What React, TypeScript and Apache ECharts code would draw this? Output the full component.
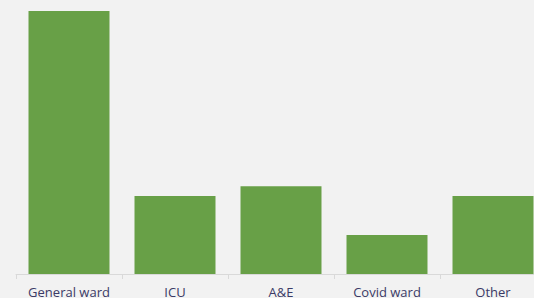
import React, { useEffect, useRef } from "react";
import * as echarts from "echarts";

const categories = ["General ward", "ICU", "A&E", "Covid ward", "Other"];
const values = [27, 8, 9, 4, 8];

export default function App() {
  const ref = useRef<HTMLDivElement>(null);
  useEffect(() => {
    if (!ref.current) return;
    const chart = echarts.init(ref.current, null, { renderer: "svg" });
    chart.setOption({
      animation: false,
      backgroundColor: "#f2f2f2",
      grid: { left: 16, width: 530, top: 11, bottom: 40 },
      xAxis: {
        type: "category",
        data: categories,
        axisLine: { lineStyle: { color: "#d9d9d9", width: 1 } },
        axisTick: { show: true, length: 5, lineStyle: { color: "#d9d9d9" } },
        axisLabel: {
          color: "#3b3a66",
          fontFamily: "Open Sans",
          fontSize: 13,
          margin: 11,
          interval: 0,
        },
      },
      yAxis: {
        type: "value",
        min: 0,
        max: 27,
        show: false,
        splitLine: { show: false },
      },
      series: [
        {
          type: "bar",
          data: values,
          barCategoryGap: "23.6%",
          itemStyle: { color: "#68a047" },
        },
      ],
    });
    return () => chart.dispose();
  }, []);
  return (
    <div
      style={{
        position: "absolute",
        left: 0,
        top: 0,
        width: 534,
        height: 298,
        overflow: "hidden",
        background: "#f2f2f2",
      }}
    >
      <div ref={ref} style={{ width: 560, height: 314 }} />
    </div>
  );
}
